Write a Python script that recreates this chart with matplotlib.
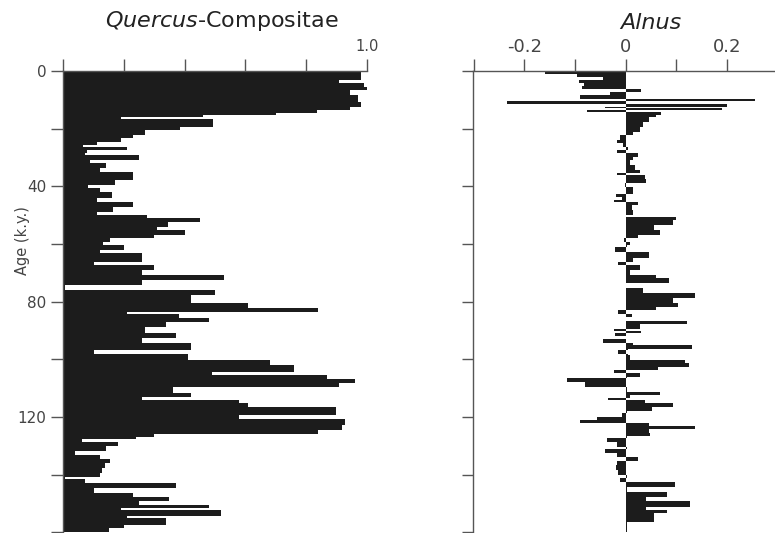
import numpy as np
import matplotlib
matplotlib.use("Agg")
import matplotlib.pyplot as plt
from matplotlib.ticker import FixedLocator, FixedFormatter

# ---- data (top age of each sample interval, k.y., and value) ----
quercus_age = [0, 0.5, 3.1, 4.3, 5.7, 6.6, 8.3, 10.6, 12.4, 13.5, 14.7, 15.3, 15.8, 16.8,
               19.3, 20.5, 22.2, 23.4, 24.5, 25.7, 26.2, 27.4, 28.6, 29.0, 30.9, 32.0,
               33.8, 35.2, 37.8, 39.5, 40.7, 41.9, 44.2, 45.3, 47.1, 48.8, 50.0, 51.1,
               52.3, 54.0, 55.1, 56.9, 58.0, 59.2, 60.3, 62.1, 63.2, 66.1, 67.2, 69.0,
               70.7, 72.5, 74.2, 76.0, 77.7, 80.6, 82.3, 83.5, 84.3, 85.8, 87.0, 88.7,
               91.0, 92.7, 94.5, 96.8, 98.3, 100.2, 102.0, 104.3, 105.4, 106.9, 108.3,
               109.5, 111.8, 113.0, 114.1, 115.3, 116.4, 119.3, 120.6, 122.8, 124.5,
               126.0, 126.9, 127.7, 128.6, 130.1, 131.8, 133.2, 134.7, 136.1, 137.8,
               139.3, 140.7, 141.6, 143.0, 144.7, 146.5, 147.6, 149.3, 150.5, 151.6,
               152.4, 154.3, 155.1, 157.4, 158.5]
quercus_val = [0.86, 0.98, 0.91, 0.99, 1.0, 0.945, 0.97, 0.98, 0.945, 0.835, 0.70, 0.46, 0.19, 0.495,
               0.385, 0.27, 0.23, 0.19, 0.11, 0.066, 0.21, 0.077, 0.07, 0.25, 0.088, 0.14,
               0.12, 0.23, 0.17, 0.082, 0.12, 0.16, 0.11, 0.23, 0.165, 0.11, 0.275, 0.45,
               0.346, 0.31, 0.40, 0.30, 0.154, 0.13, 0.20, 0.12, 0.26, 0.10, 0.30, 0.26,
               0.53, 0.26, 0.005, 0.50, 0.42, 0.61, 0.84, 0.21, 0.38, 0.48, 0.34, 0.27,
               0.37, 0.26, 0.42, 0.10, 0.41, 0.68, 0.76, 0.49, 0.87, 0.96, 0.91,
               0.36, 0.42, 0.26, 0.58, 0.61, 0.90, 0.58, 0.93, 0.92, 0.84,
               0.30, 0.24, 0.06, 0.18, 0.14, 0.04, 0.12, 0.154, 0.137, 0.126,
               0.12, 0.005, 0.07, 0.37, 0.10, 0.23, 0.35, 0.25, 0.48, 0.19,
               0.52, 0.21, 0.34, 0.20, 0.15]

alnus_age = [0, 0.5, 1.2, 2.2, 3.1, 4.3, 5.2, 6.4, 7.2, 8.3, 9.6, 10.5, 11.6, 12.5, 13.0,
             13.5, 14.3, 15.3, 16.0, 17.6, 19.3, 21.0, 22.3, 23.9, 25.0, 26.2, 27.4, 28.6,
             29.7, 30.9, 32.6, 34.3, 35.5, 36.0, 37.3, 39.0, 40.2, 42.5, 43.8, 44.8, 45.4,
             46.5, 48.2, 50.0, 50.6, 51.7, 53.4, 55.2, 56.9, 58.0, 59.2, 60.3, 61.0, 62.8,
             65.0, 66.1, 67.2, 69.0, 70.7, 71.8, 73.6, 75.4, 77.1, 78.9, 80.6, 81.7, 83.0,
             84.3, 85.4, 86.6, 87.7, 89.6, 90.2, 90.8, 91.9, 93.1, 94.2, 95.1, 96.4, 96.8,
             98.0, 98.5, 100.2, 101.4, 102.5, 103.7, 104.8, 106.0, 106.6, 107.7, 109.5,
             111.2, 112.4, 113.5, 114.1, 115.3, 116.4, 117.8, 118.7, 119.9, 121.0, 122.2,
             123.1, 124.3, 125.4, 126.6, 127.4, 128.6, 130.3, 131.2, 132.6, 134.0, 135.1,
             135.4, 136.6, 138.4, 140.1, 141.0, 142.4, 144.2, 146.1, 147.6, 149.3, 151.1,
             152.3, 153.4, 154.6, 156.3]
alnus_val = [0.03, -0.16, -0.097, -0.044, -0.093, -0.083, -0.087, 0.03, -0.03, -0.09, 0.255, -0.235, 0.2, -0.04, 0.19,
             -0.077, 0.07, 0.06, 0.045, 0.035, 0.028, 0.015, -0.011, -0.018, -0.005, 0.005, -0.018, 0.025,
             0.015, 0.009, 0.018, 0.028, -0.018, 0.038, 0.041, -0.001, 0.015, -0.019, -0.008, -0.024, 0.025,
             0.012, 0.015, 0.001, 0.1, 0.094, 0.055, 0.068, 0.025, -0.003, 0.009, 0.002, -0.021, 0.045,
             0.015, -0.015, 0.028, 0.009, 0.06, 0.085, 0.001, 0.035, 0.137, 0.094, 0.104, 0.06, -0.015,
             0.012, 0.001, 0.12, 0.028, -0.024, 0.03, -0.021, 0.001, -0.044, 0.015, 0.13, 0.004, -0.015,
             0.004, 0.009, 0.117, 0.124, 0.064, -0.024, 0.028, 0.002, -0.116, -0.08, 0.002,
             0.068, 0.009, -0.034, 0.038, 0.094, 0.051, 0.002, -0.008, -0.057, -0.09, 0.045,
             0.137, 0.045, 0.048, 0.003, -0.037, -0.018, 0.002, -0.04, -0.018, 0.025, 0.002,
             -0.018, -0.019, -0.015, 0.002, -0.011, 0.097, 0.002, 0.081, 0.041, 0.127, 0.041,
             0.081, 0.055, 0.055, 0.002]

age_max = 160
age_ticks = [0, 20, 40, 60, 80, 100, 120, 140, 160]
age_labels = ["0", "", "40", "", "80", "", "120", "", ""]
q_ticks = [0, 0.2, 0.4, 0.6, 0.8, 1.0]
q_labels = ["", "", "", "", "", "1.0"]
a_ticks = [-0.3, -0.2, -0.1, 0, 0.1, 0.2]
a_labels = ["", "-0.2", "", "0", "", "0.2"]

BAR = "#1c1c1c"
AX = "#555555"
TXT = "#444444"

W, H = 775, 533
fig = plt.figure(figsize=(W / 100, H / 100), dpi=100)

top_px, bot_px = 71, 532.3
ax_b = (H - bot_px) / H
ax_h = (bot_px - top_px) / H


def style(ax):
    for s in ("right", "bottom"):
        ax.spines[s].set_visible(False)
    for s in ("left", "top"):
        ax.spines[s].set_color(AX)
        ax.spines[s].set_linewidth(1.0)
    ax.xaxis.set_ticks_position("top")
    ax.tick_params(axis="both", direction="out", length=9, width=1.0, color=AX,
                   labelcolor=TXT)
    ax.set_ylim(age_max, 0)
    ax.yaxis.set_major_locator(FixedLocator(age_ticks))
    ax.set_facecolor("none")


def heights(ages):
    a = np.asarray(ages, dtype=float)
    return np.diff(np.append(a, age_max))


# left panel
axL = fig.add_axes([63.3 / W, ax_b, (366.7 - 63.3) / W, ax_h])
axL.barh(quercus_age, quercus_val, height=heights(quercus_age), align="edge",
         color=BAR, linewidth=0)
style(axL)
axL.set_xlim(0, 1.0)
axL.xaxis.set_major_locator(FixedLocator(q_ticks))
axL.xaxis.set_major_formatter(FixedFormatter(q_labels))
axL.yaxis.set_major_formatter(FixedFormatter(age_labels))
axL.tick_params(axis="x", labelsize=10.5, pad=3)
axL.tick_params(axis="y", labelsize=11, pad=3)
fig.text(222 / W, (H - 21) / H, r"$\it{Quercus}$-Compositae", fontsize=16,
         color="#222222", ha="center", va="center")

# right panel
zero_px = 625.7
px_per = 507.0
a_left = (473.3 - zero_px) / px_per
a_right = (W - zero_px) / px_per
axR = fig.add_axes([473.3 / W, ax_b, (W - 473.3) / W, ax_h])
axR.barh(alnus_age, alnus_val, height=heights(alnus_age), align="edge",
         color=BAR, linewidth=0)
style(axR)
axR.set_xlim(a_left, a_right)
axR.xaxis.set_major_locator(FixedLocator(a_ticks))
axR.xaxis.set_major_formatter(FixedFormatter(a_labels))
axR.yaxis.set_major_formatter(FixedFormatter([""] * len(age_ticks)))
axR.tick_params(axis="x", labelsize=13, pad=2)
axR.tick_params(axis="y", length=8)
fig.text(651 / W, (H - 23) / H, "Alnus", fontsize=16, style="italic",
         color="#222222", ha="center", va="center")

fig.text(22 / W, (H - 241) / H, "Age (k.y.)", rotation=90, fontsize=10.5,
         color=TXT, ha="center", va="center")

fig.savefig("out.png", dpi=100)
